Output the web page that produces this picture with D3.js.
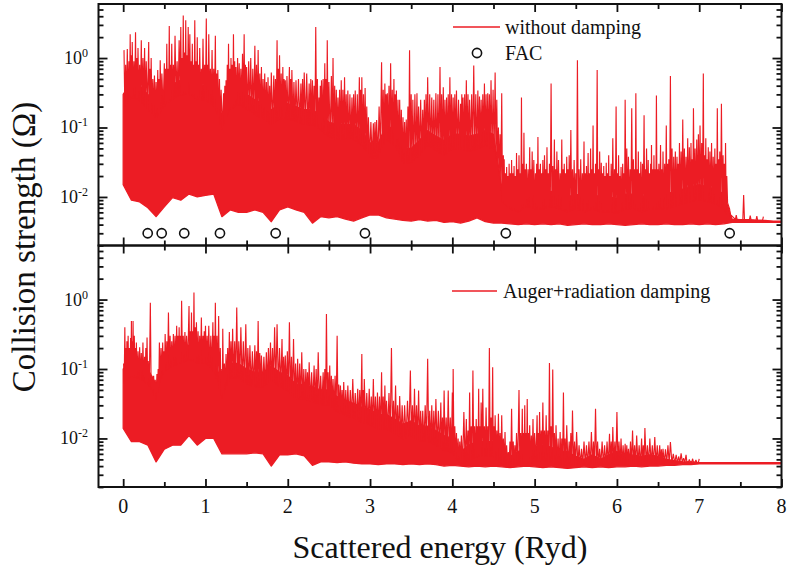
<!DOCTYPE html>
<html><head><meta charset="utf-8">
<script src="https://cdn.jsdelivr.net/npm/d3@7"></script>
<style>body{margin:0;background:#fff}svg{display:block}</style>
</head><body><svg id="c" width="787" height="573"></svg>
<script>
// ---------- data ----------
const energy = [0,0.1,0.2,0.3,0.4,0.5,0.6,0.7,0.8,0.9,1,1.1,1.2,1.3,1.4,1.5,1.6,1.7,1.8,1.9,2,2.1,2.2,2.3,2.4,2.5,2.6,2.7,2.8,2.9,3,3.1,3.2,3.3,3.4,3.5,3.6,3.7,3.8,3.9,4,4.1,4.2,4.3,4.4,4.5,4.6,4.7,4.8,4.9,5,5.1,5.2,5.3,5.4,5.5,5.6,5.7,5.8,5.9,6,6.1,6.2,6.3,6.4,6.5,6.6,6.7,6.8,6.9,7,7.1,7.2,7.3,7.4,7.5,7.6,7.7,7.8,7.9,8];

// without damping: solid part of the resonance band (upper / lower level)
const noDampHigh = [0.3,0.45,0.4,0.3,0.22,0.33,0.42,0.48,0.5,0.42,
 0.4,0.33,0.15,0.3,0.35,0.3,0.25,0.22,0.18,0.22,
 0.22,0.2,0.18,0.18,0.15,0.12,0.11,0.11,0.11,0.09,
 0.06,0.06,0.11,0.09,0.05,0.05,0.065,0.09,0.075,0.065,
 0.08,0.08,0.075,0.08,0.09,0.08,0.014,0.011,0.01,0.012,
 0.011,0.011,0.012,0.011,0.01,0.011,0.01,0.011,0.01,0.01,
 0.0095,0.011,0.011,0.01,0.011,0.011,0.011,0.012,0.013,0.014,
 0.015,0.014,0.013,0.011,0.0048,0.0047,0.0047,0.0046,0.0046,0.0045,
 0.0045];
const noDampLow = [0.015,0.009,0.0085,0.007,0.0052,0.0072,0.0098,0.009,0.011,0.01,
 0.0105,0.011,0.0052,0.0065,0.006,0.006,0.0065,0.006,0.0044,0.0065,
 0.0072,0.0065,0.006,0.0042,0.0052,0.005,0.0052,0.0048,0.0045,0.005,
 0.0055,0.0055,0.005,0.0048,0.0046,0.0045,0.0047,0.0045,0.0046,0.0043,
 0.0044,0.0042,0.0045,0.005,0.0044,0.0042,0.0042,0.0041,0.004,0.0041,
 0.004,0.0041,0.004,0.0041,0.0039,0.004,0.0041,0.004,0.004,0.0041,
 0.004,0.0039,0.004,0.0041,0.004,0.004,0.0041,0.004,0.004,0.0041,
 0.004,0.0041,0.004,0.0041,0.0043,0.0043,0.0043,0.0043,0.0043,0.0043,
 0.0043];
// without damping: resonance peaks [energy, Omega]
const noDampPeaks = [[0.01,1.3],[0.03,0.8],[0.05,1.35],[0.07,0.9],[0.085,2.2],[0.1,1.1],[0.11,1.7],[0.13,0.9],[0.15,2.35],[0.165,1.0],[0.18,1.4],[0.2,0.8],[0.22,1.8],[0.24,1.0],[0.26,1.4],[0.28,0.9],[0.31,1.7],[0.325,0.7],[0.34,1.0],[0.36,0.5],[0.38,0.56],[0.4,0.45],[0.42,0.67],[0.435,0.5],[0.45,0.93],[0.47,0.6],[0.5,0.84],[0.515,0.7],[0.53,1.6],[0.545,0.7],[0.56,2.9],[0.575,0.8],[0.59,1.6],[0.61,0.8],[0.63,2.1],[0.655,0.9],[0.68,1.8],[0.7,2.8],[0.715,1.0],[0.73,4.1],[0.745,1.2],[0.76,3.5],[0.775,1.1],[0.79,2.8],[0.81,2.2],[0.825,0.9],[0.84,1.6],[0.855,0.8],[0.87,3.5],[0.885,0.9],[0.9,2.0],[0.915,0.8],[0.93,1.4],[0.95,0.7],[0.97,1.9],[0.99,0.8],[1.01,3.7],[1.025,0.8],[1.04,2.2],[1.06,0.7],[1.08,1.3],[1.1,0.7],[1.12,2.1],[1.135,0.6],[1.15,0.67],[1.17,0.5],[1.19,0.35],[1.22,0.31],[1.235,0.4],[1.25,0.48],[1.265,0.8],[1.28,1.6],[1.295,0.7],[1.31,1.0],[1.325,0.8],[1.34,2.2],[1.355,0.9],[1.37,0.74],[1.39,1.0],[1.41,0.84],[1.43,0.7],[1.45,1.15],[1.47,2.2],[1.485,0.8],[1.5,0.74],[1.525,0.9],[1.55,1.0],[1.575,0.7],[1.6,1.5],[1.62,0.8],[1.64,1.3],[1.66,0.6],[1.68,0.74],[1.7,0.5],[1.72,0.6],[1.74,0.45],[1.76,0.53],[1.78,0.4],[1.8,0.62],[1.83,0.56],[1.85,0.5],[1.87,1.8],[1.885,0.7],[1.9,1.1],[1.92,0.6],[1.94,0.74],[1.955,0.5],[1.97,0.48],[1.99,0.55],[2.02,0.74],[2.035,0.5],[2.05,0.67],[2.075,0.45],[2.1,0.48],[2.13,0.5],[2.16,0.43],[2.18,0.5],[2.2,0.62],[2.23,0.6],[2.26,0.43],[2.28,0.5],[2.3,0.48],[2.32,0.4],[2.34,2.8],[2.36,0.5],[2.38,0.27],[2.395,0.4],[2.41,0.48],[2.43,0.5],[2.45,0.84],[2.465,0.5],[2.48,1.8],[2.5,0.45],[2.53,0.55],[2.55,1.0],[2.57,0.4],[2.59,0.35],[2.61,0.27],[2.63,0.35],[2.65,0.48],[2.67,0.35],[2.69,0.53],[2.71,0.3],[2.73,0.34],[2.755,0.3],[2.78,0.27],[2.8,0.3],[2.82,0.34],[2.845,0.3],[2.87,0.53],[2.885,0.35],[2.9,0.53],[2.92,0.3],[2.94,0.37],[2.96,0.2],[2.98,0.14],[3.01,0.12],[3.04,0.115],[3.06,0.12],[3.08,0.128],[3.11,0.2],[3.14,0.87],[3.16,0.35],[3.18,0.43],[3.195,0.3],[3.21,0.31],[3.23,0.4],[3.25,0.84],[3.27,0.35],[3.29,0.5],[3.305,0.3],[3.32,0.34],[3.34,0.25],[3.36,0.25],[3.38,0.18],[3.4,0.14],[3.42,0.12],[3.44,0.13],[3.46,0.2],[3.48,1.3],[3.5,0.3],[3.52,0.25],[3.545,0.3],[3.57,0.31],[3.59,0.2],[3.615,0.25],[3.64,0.18],[3.66,0.25],[3.68,0.3],[3.7,0.53],[3.725,0.3],[3.75,0.27],[3.775,0.25],[3.8,0.31],[3.825,0.3],[3.85,0.74],[3.87,0.3],[3.89,0.38],[3.91,0.25],[3.93,0.27],[3.95,0.3],[3.97,0.53],[3.99,0.3],[4.01,0.27],[4.03,0.3],[4.05,0.34],[4.075,0.25],[4.1,0.22],[4.115,0.3],[4.13,0.27],[4.15,0.3],[4.17,0.48],[4.19,0.3],[4.21,0.25],[4.235,0.3],[4.26,0.78],[4.285,0.3],[4.31,0.34],[4.33,0.28],[4.35,0.25],[4.37,0.3],[4.39,0.43],[4.41,0.3],[4.43,0.31],[4.45,0.3],[4.47,0.48],[4.495,0.35],[4.52,0.62],[4.54,0.25],[4.56,0.1],[4.58,0.08],[4.6,0.31],[4.62,0.04],
 [4.63,0.035],[4.645,0.022],[4.66,0.027],[4.675,0.02],[4.69,0.03],[4.705,0.022],[4.72,0.034],[4.735,0.022],[4.75,0.028],[4.765,0.02],[4.78,0.043],[4.795,0.025],[4.81,0.04],[4.825,0.022],[4.84,0.27],[4.855,0.03],[4.87,0.084],[4.885,0.025],[4.9,0.03],[4.92,0.025],[4.94,0.052],[4.955,0.025],[4.97,0.045],[4.99,0.034],[5.01,0.022],[5.025,0.03],[5.04,0.073],[5.055,0.025],[5.07,0.03],[5.085,0.022],[5.1,0.034],[5.12,0.04],[5.135,0.025],[5.15,0.052],[5.165,0.022],[5.18,0.03],[5.2,0.43],[5.22,0.028],[5.24,0.067],[5.255,0.025],[5.27,0.045],[5.29,0.034],[5.31,0.022],[5.33,0.067],[5.345,0.025],[5.36,0.03],[5.375,0.022],[5.39,0.038],[5.405,0.025],[5.42,0.04],[5.44,0.092],[5.46,0.025],[5.48,0.034],[5.5,0.022],[5.52,0.93],[5.54,0.025],[5.56,0.035],[5.58,0.022],[5.6,0.063],[5.615,0.022],[5.63,0.028],[5.65,0.043],[5.665,0.022],[5.68,0.05],[5.695,0.025],[5.71,0.107],[5.725,0.022],[5.74,0.03],[5.76,0.67],[5.775,0.025],[5.79,0.045],[5.81,0.031],[5.825,0.022],[5.84,0.028],[5.855,0.02],[5.87,0.031],[5.885,0.022],[5.9,0.04],[5.915,0.02],[5.93,0.03],[5.95,0.07],[5.97,0.025],[5.99,0.2],[6.005,0.022],[6.02,0.04],[6.035,0.02],[6.05,0.027],[6.07,0.03],[6.085,0.022],[6.1,0.25],[6.12,0.05],[6.14,0.038],[6.16,0.025],[6.18,0.19],[6.2,0.035],[6.215,0.025],[6.23,0.31],[6.245,0.025],[6.26,0.045],[6.275,0.022],[6.29,0.032],[6.31,0.03],[6.33,0.15],[6.345,0.025],[6.36,0.05],[6.38,0.034],[6.395,0.022],[6.41,0.03],[6.42,0.056],[6.435,0.025],[6.45,0.04],[6.465,0.025],[6.48,0.29],[6.495,0.025],[6.51,0.03],[6.53,0.056],[6.545,0.025],[6.56,0.045],[6.58,0.03],[6.6,0.107],[6.615,0.03],[6.63,0.035],[6.65,0.55],[6.67,0.05],[6.69,0.038],[6.71,0.045],[6.73,0.038],[6.745,0.03],[6.76,0.06],[6.78,0.045],[6.8,0.13],[6.82,0.05],[6.84,0.038],[6.86,0.07],[6.88,0.052],[6.9,0.06],[6.915,0.035],[6.93,0.19],[6.95,0.05],[6.97,0.067],[6.99,0.08],[7.01,0.107],[7.03,0.06],[7.05,0.6],[7.065,0.04],[7.08,0.07],[7.095,0.035],[7.11,0.052],[7.13,0.045],[7.15,0.06],[7.17,0.038],[7.19,0.05],[7.205,0.03],[7.22,0.19],[7.235,0.035],[7.25,0.045],[7.27,0.22],[7.29,0.04],[7.305,0.03],[7.32,0.06],[7.335,0.02],
 [7.38,0.0052],[7.45,0.0055],[7.54,0.0107],[7.62,0.0054],[7.7,0.0053],[7.78,0.0052]];

// FAC
const facE = [0.298,0.468,0.742,1.176,1.853,2.938,4.65,7.37];
const facV = [0.003,0.003,0.003,0.003,0.003,0.003,0.003,0.003];

// Auger + radiation damping: solid band levels
const dampHigh = [0.1,0.13,0.12,0.1,0.06,0.15,0.18,0.2,0.22,0.2,
 0.2,0.15,0.06,0.12,0.12,0.1,0.09,0.09,0.11,0.09,
 0.08,0.06,0.06,0.055,0.05,0.05,0.04,0.035,0.032,0.028,
 0.026,0.022,0.022,0.019,0.016,0.018,0.015,0.015,0.013,0.011,
 0.01,0.0065,0.008,0.009,0.009,0.009,0.007,0.0055,0.0065,0.007,
 0.0075,0.008,0.0075,0.0065,0.0065,0.0055,0.005,0.0058,0.005,0.0058,
 0.0065,0.0055,0.0058,0.0055,0.0058,0.0055,0.005,0.0048,0.0046,0.0046,
 0.0045,0.0045,0.0045,0.0045,0.0045,0.0045,0.0045,0.0045,0.0045,0.0045,
 0.0045];
const dampLow = [0.014,0.009,0.009,0.008,0.0046,0.007,0.008,0.008,0.011,0.008,
 0.01,0.01,0.006,0.006,0.006,0.006,0.0062,0.006,0.004,0.0058,
 0.0058,0.006,0.0056,0.0041,0.0046,0.0046,0.0045,0.0046,0.0044,0.0043,
 0.0043,0.0042,0.0043,0.0043,0.0042,0.0043,0.0042,0.0043,0.0042,0.004,
 0.0041,0.004,0.0039,0.004,0.0039,0.004,0.0039,0.0038,0.0039,0.004,
 0.0039,0.0038,0.0039,0.0038,0.0037,0.0038,0.0039,0.0038,0.0039,0.0038,
 0.0039,0.0039,0.004,0.0039,0.004,0.004,0.0041,0.0041,0.0042,0.0042,
 0.0043,0.0043,0.0043,0.0043,0.0043,0.0043,0.0043,0.0043,0.0043,0.0043,
 0.0043];
const dampPeaks = [[0.005,0.12],[0.02,0.4],[0.035,0.2],[0.045,0.25],[0.06,0.3],[0.075,0.2],[0.09,0.28],[0.1,0.49],[0.11,0.25],[0.12,0.49],[0.135,0.3],[0.15,0.2],[0.16,0.24],[0.18,0.18],[0.2,0.205],[0.22,0.17],[0.24,0.24],[0.26,0.15],[0.275,0.2],[0.29,0.285],[0.305,0.13],[0.33,0.9],[0.35,0.08],[0.37,0.08],[0.39,0.07],[0.41,0.085],[0.425,0.1],[0.44,0.24],[0.46,0.2],[0.48,0.24],[0.495,0.18],[0.51,0.32],[0.53,0.25],[0.55,0.65],[0.57,0.3],[0.59,0.25],[0.61,0.32],[0.63,0.3],[0.65,0.42],[0.665,0.3],[0.68,0.4],[0.695,0.3],[0.71,0.96],[0.73,0.3],[0.75,0.34],[0.77,0.3],[0.8,0.81],[0.815,0.35],[0.83,0.65],[0.845,0.35],[0.86,1.26],[0.875,0.4],[0.89,0.47],[0.91,0.35],[0.93,0.3],[0.95,0.55],[0.97,0.3],[0.985,0.35],[1.0,0.42],[1.02,0.3],[1.04,0.42],[1.065,0.3],[1.09,0.47],[1.105,0.3],[1.12,0.9],[1.14,0.3],[1.16,0.58],[1.18,0.2],[1.2,0.1],[1.21,0.38],[1.23,0.12],[1.25,0.165],[1.27,0.2],[1.29,0.34],[1.31,0.25],[1.33,0.38],[1.355,0.25],[1.38,0.77],[1.405,0.25],[1.43,0.4],[1.46,0.25],[1.49,0.44],[1.515,0.2],[1.54,0.22],[1.57,0.18],[1.6,0.22],[1.62,0.18],[1.64,0.49],[1.66,0.17],[1.68,0.156],[1.71,0.15],[1.74,0.174],[1.765,0.2],[1.79,0.24],[1.815,0.2],[1.84,0.4],[1.87,0.44],[1.9,0.2],[1.93,0.27],[1.95,0.15],[1.97,0.156],[1.995,0.18],[2.02,0.47],[2.045,0.15],[2.07,0.27],[2.095,0.12],[2.12,0.14],[2.145,0.12],[2.17,0.174],[2.195,0.1],[2.22,0.1],[2.24,0.09],[2.26,0.125],[2.29,0.09],[2.32,0.112],[2.345,0.1],[2.37,0.174],[2.4,0.08],[2.43,0.09],[2.45,0.1],[2.47,0.62],[2.49,0.09],[2.51,0.112],[2.53,0.08],[2.55,0.072],[2.575,0.08],[2.6,0.3],[2.62,0.06],[2.64,0.058],[2.66,0.05],[2.68,0.065],[2.705,0.05],[2.73,0.058],[2.76,0.05],[2.79,0.072],[2.82,0.045],[2.85,0.052],[2.875,0.05],[2.9,0.165],[2.915,0.05],[2.93,0.072],[2.96,0.045],[2.99,0.052],[3.015,0.04],[3.04,0.072],[3.065,0.04],[3.09,0.046],[3.115,0.04],[3.14,0.09],[3.16,0.04],[3.18,0.058],[3.2,0.035],[3.23,0.045],[3.26,0.2],[3.285,0.035],[3.31,0.058],[3.335,0.03],[3.36,0.041],[3.39,0.03],[3.42,0.03],[3.455,0.035],[3.49,0.095],[3.515,0.03],[3.54,0.052],[3.565,0.03],[3.59,0.049],[3.615,0.025],[3.64,0.025],[3.67,0.03],[3.7,0.14],[3.725,0.025],[3.75,0.03],[3.775,0.025],[3.8,0.037],[3.83,0.025],[3.86,0.033],[3.88,0.02],[3.9,0.049],[3.925,0.02],[3.95,0.049],[3.975,0.02],[4.0,0.046],[4.01,0.1],[4.03,0.015],[4.05,0.012],[4.07,0.01],[4.09,0.009],[4.11,0.011],[4.14,0.024],[4.17,0.019],[4.19,0.013],[4.21,0.046],[4.23,0.015],[4.25,0.095],[4.27,0.015],[4.29,0.019],[4.305,0.015],[4.32,0.052],[4.335,0.015],[4.35,0.033],[4.37,0.052],[4.39,0.015],[4.41,0.028],[4.43,0.015],[4.45,0.2],[4.47,0.02],[4.49,0.106],[4.505,0.015],[4.52,0.0215],[4.54,0.013],[4.56,0.0226],[4.58,0.012],[4.6,0.0215],[4.62,0.01],[4.64,0.0124],[4.66,0.008],[4.68,0.0064],[4.7,0.009],[4.72,0.0268],[4.74,0.009],[4.76,0.008],[4.78,0.012],[4.81,0.05],[4.83,0.012],[4.85,0.0268],[4.865,0.012],[4.88,0.03],[4.895,0.012],[4.91,0.037],[4.925,0.012],[4.94,0.0155],[4.96,0.011],[4.98,0.019],[5.0,0.012],[5.03,0.0215],[5.045,0.012],[5.06,0.024],[5.08,0.013],[5.1,0.033],[5.12,0.013],[5.14,0.0215],[5.16,0.013],[5.18,0.122],[5.2,0.015],[5.22,0.098],[5.24,0.012],[5.26,0.0155],[5.285,0.01],[5.31,0.0124],[5.33,0.01],[5.35,0.046],[5.37,0.01],[5.39,0.0155],[5.42,0.009],[5.44,0.012],[5.46,0.0253],[5.485,0.009],[5.51,0.0124],[5.54,0.008],[5.57,0.0071],[5.6,0.009],[5.63,0.008],[5.66,0.009],[5.69,0.0124],[5.715,0.009],[5.74,0.0268],[5.765,0.009],[5.79,0.0071],[5.82,0.009],[5.85,0.008],[5.88,0.009],[5.91,0.0117],[5.93,0.009],[5.95,0.0146],[5.975,0.009],[6.0,0.024],[6.025,0.009],[6.05,0.01],[6.075,0.008],[6.1,0.0084],[6.12,0.008],[6.14,0.0071],[6.165,0.009],[6.19,0.013],[6.215,0.008],[6.24,0.011],[6.27,0.008],[6.3,0.01],[6.32,0.008],[6.34,0.0141],[6.37,0.008],[6.4,0.01],[6.43,0.008],[6.46,0.0105],[6.49,0.008],[6.52,0.008],[6.54,0.007],[6.56,0.0071],[6.59,0.007],[6.62,0.008],[6.65,0.0089],[6.685,0.006],[6.72,0.0058],[6.75,0.0055],[6.78,0.0061],[6.81,0.0052],[6.84,0.0058],[6.88,0.005],[6.92,0.0051],[6.96,0.0049],[7.0,0.0051]];

const xTickMajor = [0,1,2,3,4,5,6,7,8];
const xTickMinor = [0.5,1.5,2.5,3.5,4.5,5.5,6.5,7.5];
const xTickLabels = ["0","1","2","3","4","5","6","7","8"];
const yTickMajor = [1,0.1,0.01];
const yTickExp = ["0","-1","-2"];
const yTickMinor = [0.002,0.003,0.004,0.005,0.006,0.007,0.008,0.009,0.02,0.03,0.04,0.05,0.06,0.07,0.08,0.09,0.2,0.3,0.4,0.5,0.6,0.7,0.8,0.9,2,3,4,5];

// ---------- drawing ----------
const RED = "#ec1c24";
const FONT = "'Liberation Serif','Times New Roman','DejaVu Serif',serif";
const svg = d3.select("#c");
const L = 98.5, R = 781.5;
const x = d3.scaleLinear().domain([-0.3, 8]).range([L, R]);
const txt = (sel, size) => sel.attr("font-family", FONT).attr("font-size", size).attr("fill", "#111");

const panels = [
  {top: 4, bottom: 245.5, high: noDampHigh, low: noDampLow, peaks: noDampPeaks, id: "p0"},
  {top: 245.5, bottom: 487, high: dampHigh, low: dampLow, peaks: dampPeaks, id: "p1"}
];

panels.forEach(p => {
  const y = d3.scaleLog().domain([0.002, 6]).range([p.bottom, p.top]);
  p.y = y;
  svg.append("clipPath").attr("id", "clip" + p.id)
    .append("rect").attr("x", L).attr("y", p.top).attr("width", R - L).attr("height", p.bottom - p.top);
  const g = svg.append("g").attr("clip-path", `url(#clip${p.id})`);
  const rows = energy.map((e, i) => ({e, lo: p.low[i], hi: p.high[i]}));
  const area = d3.area().x(d => x(d.e)).y0(d => y(d.lo)).y1(d => y(d.hi));
  g.append("path").datum(rows).attr("d", area)
    .attr("fill", RED).attr("stroke", RED).attr("stroke-width", 1.3).attr("stroke-linejoin", "round");
  // resonance line: peaks joined through the solid band level between them
  const hiAt = d3.scaleLinear().domain(energy).range(p.high);
  const loAt = d3.scaleLinear().domain(energy).range(p.low);
  const base = e => Math.max(hiAt(e) * 0.6, loAt(e) * 1.08);
  const pts = [];
  p.peaks.forEach((d, i) => {
    pts.push([d[0], d[1]]);
    if (i < p.peaks.length - 1) {
      const e2 = p.peaks[i + 1][0];
      if (e2 - d[0] < 0.04) {
        const m = (d[0] + e2) / 2;
        pts.push([m, base(m)]);
      } else {
        pts.push([d[0] + 0.01, hiAt(d[0] + 0.01)]);
        pts.push([e2 - 0.01, hiAt(e2 - 0.01)]);
      }
    }
  });
  g.append("path").datum(pts)
    .attr("d", d3.line().x(d => x(d[0])).y(d => y(d[1])))
    .attr("fill", "none").attr("stroke", RED).attr("stroke-width", 1.15).attr("stroke-linejoin", "bevel");

  const tickStyle = sel => { sel.select(".domain").remove(); sel.selectAll(".tick line").attr("stroke", "#111").attr("stroke-width", 1.8); sel.selectAll(".tick text").remove(); };
  svg.append("g").attr("transform", `translate(0,${p.bottom})`).call(d3.axisBottom(x).tickValues(xTickMajor).tickSize(-8).tickSizeOuter(0)).call(tickStyle);
  svg.append("g").attr("transform", `translate(0,${p.bottom})`).call(d3.axisBottom(x).tickValues(xTickMinor).tickSize(-5).tickSizeOuter(0)).call(tickStyle);
  svg.append("g").attr("transform", `translate(0,${p.top})`).call(d3.axisTop(x).tickValues(xTickMajor).tickSize(-8).tickSizeOuter(0)).call(tickStyle);
  svg.append("g").attr("transform", `translate(0,${p.top})`).call(d3.axisTop(x).tickValues(xTickMinor).tickSize(-5).tickSizeOuter(0)).call(tickStyle);
  svg.append("g").attr("transform", `translate(${L},0)`).call(d3.axisLeft(y).tickValues(yTickMajor).tickSize(-9).tickSizeOuter(0)).call(tickStyle);
  svg.append("g").attr("transform", `translate(${L},0)`).call(d3.axisLeft(y).tickValues(yTickMinor).tickSize(-5).tickSizeOuter(0)).call(tickStyle);
  svg.append("g").attr("transform", `translate(${R},0)`).call(d3.axisRight(y).tickValues(yTickMajor).tickSize(-9).tickSizeOuter(0)).call(tickStyle);
  svg.append("g").attr("transform", `translate(${R},0)`).call(d3.axisRight(y).tickValues(yTickMinor).tickSize(-5).tickSizeOuter(0)).call(tickStyle);

  yTickMajor.forEach((v, i) => {
    const t = svg.append("text").attr("x", 88).attr("y", y(v) + 6).attr("text-anchor", "end").call(txt, 18);
    t.append("tspan").text("10");
    t.append("tspan").attr("dy", -7).attr("font-size", 12).text(yTickExp[i]);
  });

  svg.append("rect").attr("x", L).attr("y", p.top).attr("width", R - L).attr("height", p.bottom - p.top)
    .attr("fill", "none").attr("stroke", "#111").attr("stroke-width", 2);
});

const yTop = panels[0].y;
svg.append("g").selectAll("circle").data(facE.map((e, i) => ({e, v: facV[i]}))).join("circle")
  .attr("cx", d => x(d.e)).attr("cy", d => yTop(d.v)).attr("r", 4.6)
  .attr("fill", "none").attr("stroke", "#111").attr("stroke-width", 1.6);

svg.append("g").selectAll("text").data(xTickMajor).join("text")
  .attr("x", d => x(d)).attr("y", 513).attr("text-anchor", "middle").call(txt, 20)
  .text((d, i) => xTickLabels[i]);

svg.append("text").attr("x", 440).attr("y", 558).attr("text-anchor", "middle").call(txt, 32)
  .text("Scattered energy (Ryd)");
svg.append("text").attr("transform", "translate(35,247) rotate(-90)").attr("text-anchor", "middle").call(txt, 33)
  .text("Collision strength (Ω)");

svg.append("line").attr("x1", 453).attr("x2", 500).attr("y1", 27).attr("y2", 27).attr("stroke", RED).attr("stroke-width", 1.6);
svg.append("text").attr("x", 505).attr("y", 33.5).call(txt, 20).text("without damping");
svg.append("circle").attr("cx", 477).attr("cy", 53).attr("r", 4.6).attr("fill", "none").attr("stroke", "#111").attr("stroke-width", 1.6);
svg.append("text").attr("x", 505).attr("y", 60).call(txt, 20).text("FAC");
svg.append("line").attr("x1", 452).attr("x2", 497).attr("y1", 291).attr("y2", 291).attr("stroke", RED).attr("stroke-width", 1.6);
svg.append("text").attr("x", 503).attr("y", 298).call(txt, 20).text("Auger+radiation damping");
</script></body></html>
